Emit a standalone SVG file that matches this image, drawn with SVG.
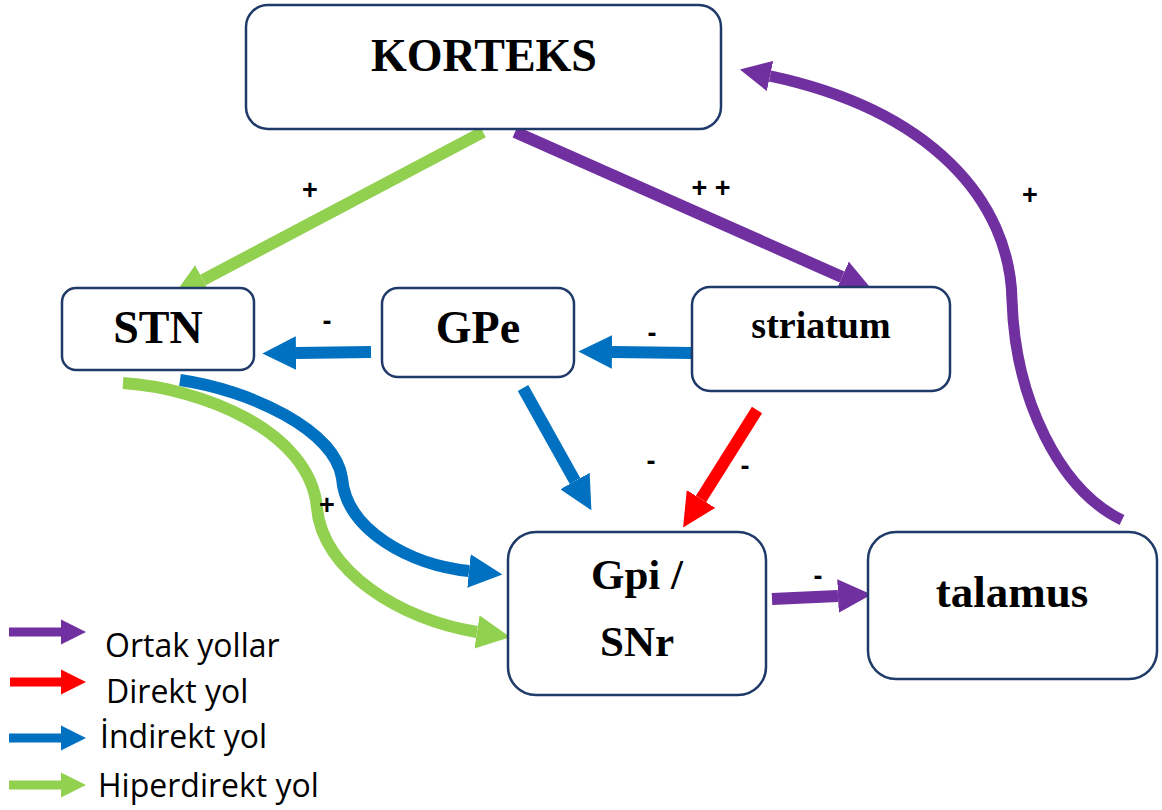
<svg xmlns="http://www.w3.org/2000/svg" width="1162" height="810" viewBox="0 0 1162 810">
  <style>
    .box { fill: #ffffff; stroke: #1F3A68; stroke-width: 2.5; }
    .lbl { font-family: "Liberation Serif", "Times New Roman", serif; font-weight: bold; fill: #000; text-anchor: middle; }
    .sign { font-family: "Liberation Sans", Arial, sans-serif; font-weight: bold; font-size: 27px; fill: #000; text-anchor: middle; }
    .leg { font-family: "Open Sans", "Noto Sans", sans-serif; font-size: 32px; fill: #000; }
    .w { fill: none; stroke-linecap: butt; }
    .pur { stroke: #7030A0; }
    .grn { stroke: #92D050; }
    .blu { stroke: #0070C0; }
    .red { stroke: #FF0000; }
  </style>
  <defs>
    <marker id="hPur" viewBox="0 0 10 10" refX="0" refY="5" markerWidth="2.8" markerHeight="2.8" markerUnits="strokeWidth" orient="auto">
      <path d="M0,0 L10,5 L0,10 z" fill="#7030A0"/>
    </marker>
    <marker id="hGrn" viewBox="0 0 10 10" refX="0" refY="5" markerWidth="2.8" markerHeight="2.8" markerUnits="strokeWidth" orient="auto">
      <path d="M0,0 L10,5 L0,10 z" fill="#92D050"/>
    </marker>
    <marker id="hBlu" viewBox="0 0 10 10" refX="0" refY="5" markerWidth="2.8" markerHeight="2.8" markerUnits="strokeWidth" orient="auto">
      <path d="M0,0 L10,5 L0,10 z" fill="#0070C0"/>
    </marker>
    <marker id="hRed" viewBox="0 0 10 10" refX="0" refY="5" markerWidth="2.8" markerHeight="2.8" markerUnits="strokeWidth" orient="auto">
      <path d="M0,0 L10,5 L0,10 z" fill="#FF0000"/>
    </marker>
  </defs>

  <!-- pathways between nuclei -->
  <g id="connectors">
    <path class="w grn" stroke-width="12" d="M483,132 L203,280" marker-end="url(#hGrn)"/>
    <path class="w pur" stroke-width="12" d="M515,132 L842,277" marker-end="url(#hPur)"/>
    <path class="w pur" stroke-width="11" d="M1122,520 C1060,490 1015,400 1012,300 C1010,200 930,110 770,76" marker-end="url(#hPur)"/>
    <path class="w blu" stroke-width="12" d="M371,352 L296,353" marker-end="url(#hBlu)"/>
    <path class="w blu" stroke-width="12" d="M692,353 L612,352" marker-end="url(#hBlu)"/>
    <path class="w blu" stroke-width="12" d="M523,388 L575,481" marker-end="url(#hBlu)"/>
    <path class="w red" stroke-width="12" d="M757,410 L701,499" marker-end="url(#hRed)"/>
    <path class="w blu" stroke-width="12" d="M180,380 C250,390 335,430 342,478 C346,530 410,565 469,571" marker-end="url(#hBlu)"/>
    <path class="w grn" stroke-width="12" d="M123,383 C200,388 310,430 317,508 C322,570 400,620 477,632" marker-end="url(#hGrn)"/>
    <path class="w pur" stroke-width="12" d="M772,599 L838,596" marker-end="url(#hPur)"/>
  </g>

  <!-- excitatory / inhibitory signs -->
  <g id="signs">
    <text class="sign" x="310" y="199">+</text>
    <text class="sign" x="711" y="197">+ +</text>
    <text class="sign" x="1030" y="204">+</text>
    <text class="sign" x="327" y="330">-</text>
    <text class="sign" x="652" y="342">-</text>
    <text class="sign" x="651" y="470">-</text>
    <text class="sign" x="745" y="475">-</text>
    <text class="sign" x="327" y="514">+</text>
    <text class="sign" x="818" y="585">-</text>
  </g>

  <g id="korteks">
    <rect class="box" x="246" y="5" width="475" height="124" rx="22"/>
    <text class="lbl" x="484" y="71" font-size="46">KORTEKS</text>
  </g>
  <g id="stn">
    <rect class="box" x="62" y="288" width="192" height="82" rx="14"/>
    <text class="lbl" x="158" y="343" font-size="46">STN</text>
  </g>
  <g id="gpe">
    <rect class="box" x="382" y="288" width="192" height="89" rx="16"/>
    <text class="lbl" x="478" y="343" font-size="46">GPe</text>
  </g>
  <g id="striatum">
    <rect class="box" x="692" y="287" width="258" height="104" rx="18"/>
    <text class="lbl" x="821" y="338" font-size="38">striatum</text>
  </g>
  <g id="gpi-snr">
    <rect class="box" x="508" y="532" width="258" height="163" rx="28"/>
    <text class="lbl" x="637" y="589" font-size="43">Gpi /</text>
    <text class="lbl" x="637" y="656" font-size="43">SNr</text>
  </g>
  <g id="talamus">
    <rect class="box" x="868" y="532" width="289" height="147" rx="28"/>
    <text class="lbl" x="1012" y="607" font-size="45">talamus</text>
  </g>

  <!-- legend -->
  <g id="legend">
    <path class="w pur" stroke-width="9" d="M9,632 L61,632" marker-end="url(#hPur)"/>
    <path class="w red" stroke-width="9" d="M10,682 L61,682" marker-end="url(#hRed)"/>
    <path class="w blu" stroke-width="9" d="M9,738 L61,738" marker-end="url(#hBlu)"/>
    <path class="w grn" stroke-width="9" d="M9,785 L61,785" marker-end="url(#hGrn)"/>
    <text class="leg" x="105" y="657">Ortak yollar</text>
    <text class="leg" x="106" y="703">Direkt yol</text>
    <text class="leg" x="100" y="748">İndirekt yol</text>
    <text class="leg" x="98" y="797">Hiperdirekt yol</text>
  </g>
</svg>
